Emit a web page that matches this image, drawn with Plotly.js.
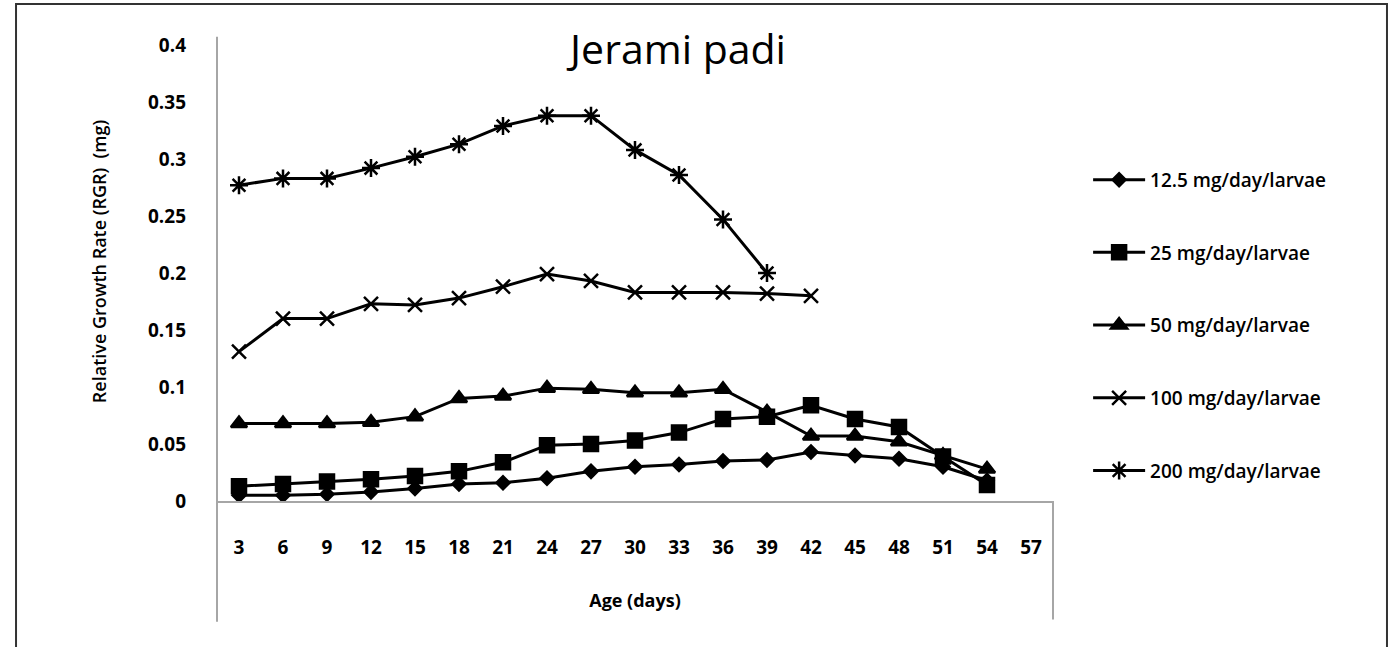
<!DOCTYPE html>
<html>
<head>
<meta charset="utf-8">
<script src="https://cdn.plot.ly/plotly-3.0.1.min.js"></script>
<style>html,body{margin:0;padding:0;background:#fff;}#chart{width:1396px;height:647px;}</style>
</head>
<body>
<div id="chart"></div>
<script>
var ages = ['3','6','9','12','15','18','21','24','27','30','33','36','39','42','45','48','51','54','57'];
var seriesNames = ['12.5 mg/day/larvae','25 mg/day/larvae','50 mg/day/larvae','100 mg/day/larvae','200 mg/day/larvae'];
var rgr12_5 = [0.005,0.005,0.006,0.008,0.011,0.015,0.016,0.020,0.026,0.030,0.032,0.035,0.036,0.043,0.040,0.037,0.030,0.018,null];
var rgr25   = [0.013,0.015,0.017,0.019,0.022,0.026,0.034,0.049,0.050,0.053,0.060,0.072,0.074,0.084,0.072,0.065,0.039,0.014,null];
var rgr50   = [0.068,0.068,0.068,0.069,0.074,0.090,0.092,0.099,0.098,0.095,0.095,0.098,0.078,0.057,0.057,0.052,0.040,0.028,null];
var rgr100  = [0.131,0.160,0.160,0.173,0.172,0.178,0.188,0.199,0.193,0.183,0.183,0.183,0.182,0.180,null,null,null,null,null];
var rgr200  = [0.277,0.283,0.283,0.292,0.302,0.313,0.329,0.338,0.338,0.308,0.286,0.247,0.200,null,null,null,null,null,null];
var yTicks = [0,0.05,0.1,0.15,0.2,0.25,0.3,0.35,0.4];
var yTickText = ['0','0.05','0.1','0.15','0.2','0.25','0.3','0.35','0.4'];

var allSeries = [rgr12_5, rgr25, rgr50, rgr100, rgr200];
var symbols = ['diamond','square','triangle-up','x-thin-open','asterisk-open'];
var sizes = [10,14,14,14,15];

var traces = allSeries.map(function(vals, i){
  return {
    type:'scatter', mode:'lines+markers',
    x: ages, y: vals, name: seriesNames[i],
    legendgroup: 'g'+i,
    connectgaps:false,
    line:{color:'#000', width:3},
    marker:{symbol:symbols[i], size:sizes[i], color:'#000', line:{color:'#000', width:2.5}}
  };
});

var axisGray = '#a6a6a6';
var font = 'Open Sans, sans-serif';
var layout = {
  width:1396, height:647,
  margin:{l:217, r:343, t:45, b:146, pad:0},
  paper_bgcolor:'#fff', plot_bgcolor:'#fff',
  showlegend:true,
  title:{text:'Jerami padi', xref:'container', yref:'container', x:0.4857, xanchor:'center', y:0.924, yanchor:'middle',
         font:{family:font, size:41, color:'#000'}},
  xaxis:{
    type:'category', categoryorder:'array', categoryarray:ages,
    range:[-0.5,18.5], showgrid:false, zeroline:false,
    showline:true, linecolor:axisGray, linewidth:2,
    ticks:'', ticklabelstandoff:28,
    tickfont:{family:font, size:19, color:'#000', weight:'bold'},
    title:{text:'Age (days)', standoff:36, font:{family:font, size:18, color:'#000', weight:'bold'}}
  },
  yaxis:{
    range:[0,0.4], tickvals:yTicks, ticktext:yTickText,
    showgrid:false, zeroline:false, showline:false,
    ticks:'', ticklabelstandoff:30,
    tickfont:{family:font, size:19, color:'#000', weight:'bold'},
    title:{text:''}
  },
  annotations:[
    {text:'Relative Growth Rate (RGR)  (mg)', xref:'paper', yref:'paper', x:-0.141, y:0.524,
     xanchor:'center', yanchor:'middle', textangle:-90, showarrow:false,
     font:{family:font, size:18, color:'#000', weight:600}}
  ],
  legend:{
    x:1.042, xanchor:'left', y:0.746, yanchor:'top',
    traceorder:'grouped', tracegroupgap:45, itemwidth:52,
    bgcolor:'rgba(0,0,0,0)',
    font:{family:font, size:19, color:'#000', weight:600}
  },
  shapes:[
    {type:'line', xref:'paper', yref:'paper', x0:0, x1:0, y0:-0.265, y1:1.018, line:{color:axisGray, width:2}},
    {type:'line', xref:'paper', yref:'paper', x0:1, x1:1, y0:0, y1:-0.26, line:{color:axisGray, width:2}},
    {type:'rect', xref:'paper', yref:'paper', x0:-0.2404, x1:1.3995, y0:-0.36, y1:1.0899, line:{color:'#333', width:2}, fillcolor:'rgba(0,0,0,0)'}
  ]
};

Plotly.newPlot('chart', traces, layout, {displayModeBar:false, staticPlot:true});
</script>
</body>
</html>
